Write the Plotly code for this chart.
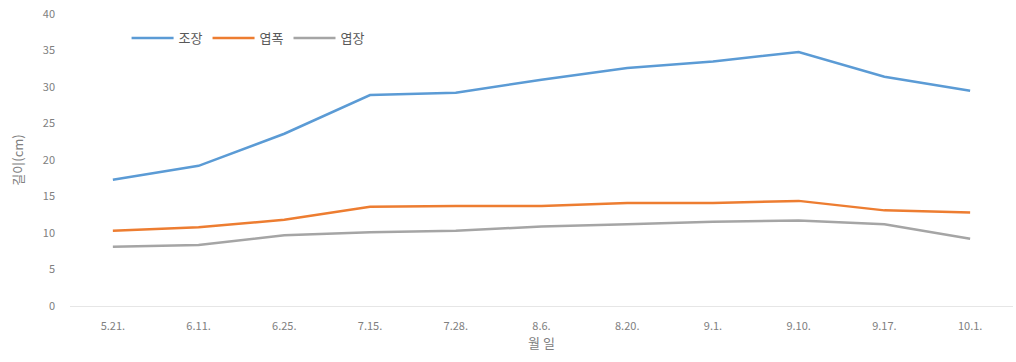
import plotly.graph_objects as go

dates = ["5.21.", "6.11.", "6.25.", "7.15.", "7.28.", "8.6.", "8.20.", "9.1.", "9.10.", "9.17.", "10.1."]
plant_height = [17.3, 19.2, 23.6, 28.9, 29.2, 31.0, 32.6, 33.5, 34.8, 31.4, 29.5]
leaf_width = [10.3, 10.8, 11.8, 13.6, 13.7, 13.7, 14.1, 14.1, 14.4, 13.1, 12.8]
leaf_length = [8.1, 8.35, 9.7, 10.1, 10.3, 10.9, 11.2, 11.55, 11.7, 11.2, 9.2]

series = [
    ("조장", plant_height, "#5B9BD5"),
    ("엽폭", leaf_width, "#ED7D31"),
    ("엽장", leaf_length, "#A5A5A5"),
]

FONT = "Noto Sans CJK KR"
TEXT = "#808080"

fig = go.Figure()
for name, vals, color in series:
    fig.add_trace(go.Scatter(
        x=dates, y=vals, name=name, mode="lines",
        line=dict(color=color, width=2.5),
    ))

fig.update_layout(
    width=1016, height=362,
    margin=dict(l=70, r=3, t=14, b=56),
    plot_bgcolor="white", paper_bgcolor="white",
    font=dict(family=FONT, size=12, color=TEXT),
    showlegend=True,
    legend=dict(
        orientation="h", x=0.06, y=0.918, xanchor="left", yanchor="middle",
        font=dict(family=FONT, size=13, color="#595959"),
        bgcolor="rgba(0,0,0,0)", itemwidth=42, tracegroupgap=0,
    ),
    xaxis=dict(
        type="category", range=[-0.5, len(dates) - 0.5],
        showgrid=False, zeroline=False,
        showline=True, linecolor="#E6E6E6", linewidth=1,
        ticks="", ticklabelstandoff=10, tickfont=dict(size=11, color=TEXT),
        title=dict(text="월 일", font=dict(size=13, color=TEXT), standoff=4),
    ),
    yaxis=dict(
        range=[0, 40], dtick=5, showgrid=False, zeroline=False,
        showline=False, ticks="", ticklabelstandoff=14, tickfont=dict(size=11, color=TEXT),
        title=dict(text="길이(cm)", font=dict(size=13, color=TEXT), standoff=16),
    ),
)

fig.write_html("out.html")
